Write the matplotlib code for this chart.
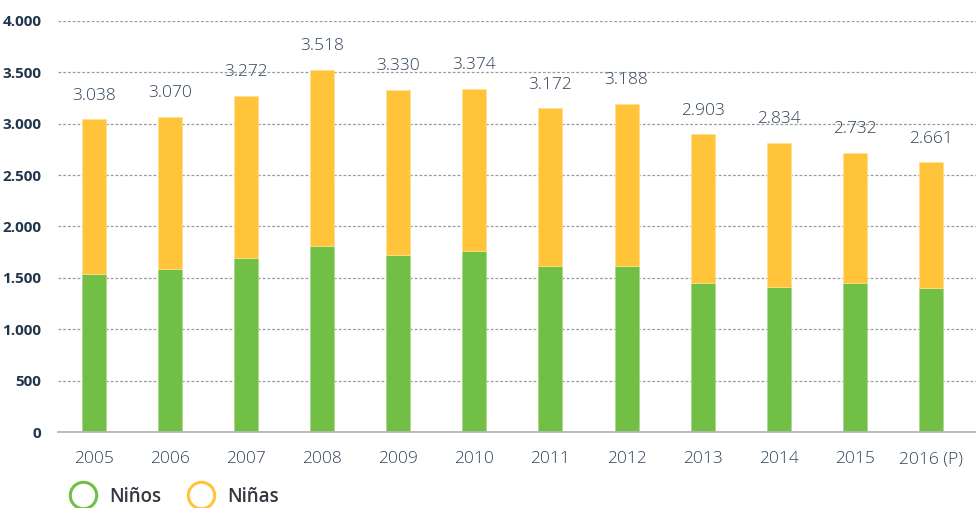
import matplotlib
matplotlib.use("Agg")
import matplotlib.pyplot as plt
from matplotlib.lines import Line2D
from matplotlib.ticker import FuncFormatter

plt.rcParams['font.family'] = ['Open Sans', 'DejaVu Sans']

# Data
years = ["2005", "2006", "2007", "2008", "2009", "2010",
         "2011", "2012", "2013", "2014", "2015", "2016 (P)"]
ninos = [1541, 1586, 1690, 1813, 1726, 1765, 1619, 1619, 1453, 1414, 1453, 1404]
ninas = [1502, 1480, 1580, 1710, 1603, 1573, 1531, 1573, 1444, 1399, 1262, 1221]
totals = [3038, 3070, 3272, 3518, 3330, 3374, 3172, 3188, 2903, 2834, 2732, 2661]

GREEN = "#71bf44"
YELLOW = "#ffc43a"
LABEL_COLOR = "#2f4358"
YTICK_COLOR = "#22364b"


def fmt_num(v, pos=None):
    return f"{int(v):,}".replace(",", ".")


fig = plt.figure(figsize=(9.76, 5.08), dpi=100)
ax = fig.add_axes([0.0594, 0.1496, 0.9406, 0.8091])

x = list(range(len(years)))
width = 0.315

ax.bar(x, ninos, width, color=GREEN, edgecolor="#a9d98c", linewidth=0.6, zorder=3)
ax.bar(x, ninas, width, bottom=ninos, color=YELLOW, edgecolor="#ffe08f",
       linewidth=0.6, zorder=3)

# total labels above bars
for xi, n, m, t in zip(x, ninos, ninas, totals):
    ax.annotate(fmt_num(t), (xi, n + m), xytext=(0, 17), textcoords="offset points",
                ha="center", va="center", fontsize=12.5, fontweight="light",
                color=LABEL_COLOR)

ax.set_ylim(0, 4000)
ax.set_xlim(-0.469, 11.59)
ax.set_yticks(range(0, 4001, 500))
ax.yaxis.set_major_formatter(FuncFormatter(fmt_num))
ax.set_xticks(x)
ax.set_xticklabels(years)

ax.grid(axis="y", linestyle=(0, (2.2, 1.6)), color="#9a9a9a", linewidth=0.9, zorder=0)
for s in ["top", "right", "left"]:
    ax.spines[s].set_visible(False)
ax.spines["bottom"].set_color("#b5b5b5")
ax.spines["bottom"].set_linewidth(1.3)
ax.spines["bottom"].set_zorder(4)

ax.tick_params(axis="y", length=0, pad=12, labelsize=11, labelcolor=YTICK_COLOR)
ax.tick_params(axis="x", length=0, pad=14, labelsize=12.5, labelcolor=LABEL_COLOR)
for lbl in ax.get_yticklabels():
    lbl.set_fontweight("bold")
for lbl in ax.get_xticklabels():
    lbl.set_fontweight("light")

handles = [
    Line2D([], [], linestyle="none", marker="o", markersize=19, markerfacecolor="none",
           markeredgecolor=GREEN, markeredgewidth=2.2, label="Niños"),
    Line2D([], [], linestyle="none", marker="o", markersize=19, markerfacecolor="none",
           markeredgecolor=YELLOW, markeredgewidth=2.2, label="Niñas"),
]
leg = fig.legend(handles=handles, loc="center left", bbox_to_anchor=(0.056, 0.022),
                 ncol=2, frameon=False, fontsize=13.5, handlelength=1.2,
                 handletextpad=0.8, columnspacing=1.55, labelcolor="#333840")
for t in leg.get_texts():
    t.set_fontweight("semibold")

fig.savefig("out.png", dpi=100)
